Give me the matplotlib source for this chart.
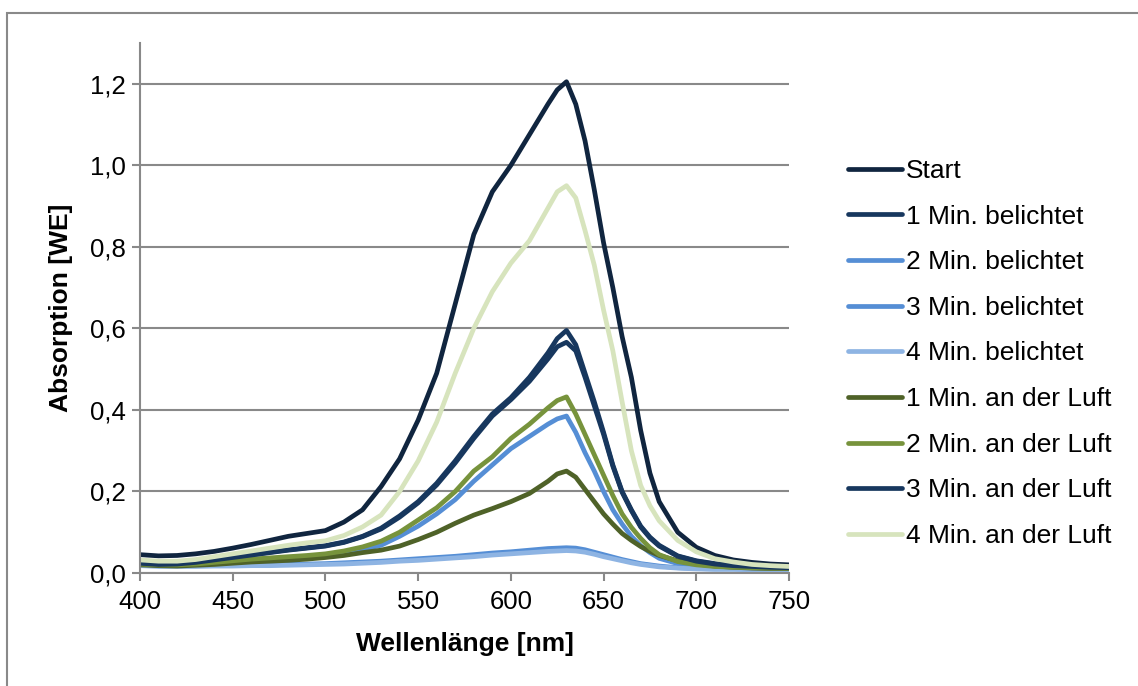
import numpy as np
import matplotlib
matplotlib.use('Agg')
import matplotlib.pyplot as plt
from matplotlib.patches import Rectangle

# Wellenlängen [nm] und Absorptionswerte
wl = [400, 410, 420, 430, 440, 450, 460, 470, 480, 490, 500, 510, 520, 530,
      540, 550, 560, 570, 580, 590, 600, 610, 620, 625, 630, 635, 640, 645,
      650, 655, 660, 665, 670, 675, 680, 690, 700, 710, 720, 730, 740, 750]

start = [0.045, 0.042, 0.043, 0.047, 0.053, 0.061, 0.070, 0.080, 0.090, 0.097,
         0.104, 0.125, 0.155, 0.212, 0.280, 0.375, 0.490, 0.660, 0.830, 0.935,
         1.000, 1.075, 1.150, 1.185, 1.205, 1.150, 1.060, 0.940, 0.810, 0.700,
         0.580, 0.480, 0.350, 0.245, 0.175, 0.100, 0.063, 0.043, 0.032, 0.026,
         0.022, 0.020]
bel_1 = [0.025, 0.022, 0.023, 0.027, 0.033, 0.040, 0.045, 0.051, 0.057, 0.062,
         0.067, 0.076, 0.090, 0.110, 0.140, 0.175, 0.220, 0.275, 0.335, 0.390,
         0.430, 0.480, 0.540, 0.575, 0.595, 0.560, 0.490, 0.420, 0.345, 0.265,
         0.200, 0.155, 0.115, 0.088, 0.068, 0.042, 0.030, 0.023, 0.019, 0.016,
         0.014, 0.013]
bel_2 = [0.020, 0.018, 0.018, 0.020, 0.023, 0.027, 0.031, 0.034, 0.037, 0.040,
         0.044, 0.050, 0.058, 0.068, 0.090, 0.115, 0.145, 0.180, 0.225, 0.265,
         0.305, 0.335, 0.365, 0.378, 0.385, 0.345, 0.295, 0.250, 0.200, 0.155,
         0.120, 0.090, 0.067, 0.050, 0.036, 0.023, 0.017, 0.014, 0.012, 0.011,
         0.011, 0.010]
bel_3 = [0.020, 0.018, 0.018, 0.018, 0.019, 0.019, 0.020, 0.020, 0.021, 0.022,
         0.023, 0.025, 0.027, 0.029, 0.032, 0.035, 0.038, 0.041, 0.045, 0.049,
         0.052, 0.056, 0.060, 0.061, 0.062, 0.061, 0.057, 0.051, 0.045, 0.039,
         0.033, 0.028, 0.023, 0.020, 0.017, 0.013, 0.011, 0.010, 0.010, 0.009,
         0.009, 0.009]
bel_4 = [0.018, 0.016, 0.016, 0.016, 0.017, 0.017, 0.018, 0.018, 0.019, 0.020,
         0.021, 0.022, 0.024, 0.026, 0.029, 0.031, 0.034, 0.037, 0.040, 0.044,
         0.047, 0.050, 0.053, 0.054, 0.055, 0.054, 0.051, 0.046, 0.040, 0.035,
         0.030, 0.025, 0.021, 0.018, 0.015, 0.012, 0.010, 0.009, 0.009, 0.008,
         0.008, 0.008]
luft_1 = [0.020, 0.018, 0.017, 0.019, 0.021, 0.024, 0.027, 0.029, 0.031, 0.034,
          0.038, 0.043, 0.050, 0.056, 0.066, 0.082, 0.100, 0.122, 0.142, 0.158,
          0.175, 0.195, 0.225, 0.243, 0.250, 0.235, 0.205, 0.175, 0.145, 0.120,
          0.097, 0.080, 0.065, 0.053, 0.043, 0.030, 0.022, 0.017, 0.014, 0.012,
          0.011, 0.011]
luft_2 = [0.022, 0.020, 0.020, 0.022, 0.026, 0.030, 0.034, 0.037, 0.040, 0.043,
          0.047, 0.054, 0.064, 0.078, 0.100, 0.130, 0.160, 0.200, 0.250, 0.285,
          0.330, 0.365, 0.405, 0.423, 0.432, 0.390, 0.340, 0.290, 0.240, 0.190,
          0.145, 0.112, 0.085, 0.062, 0.045, 0.028, 0.020, 0.016, 0.014, 0.013,
          0.012, 0.012]
luft_3 = [0.024, 0.021, 0.022, 0.026, 0.032, 0.038, 0.044, 0.050, 0.056, 0.061,
          0.066, 0.075, 0.089, 0.108, 0.137, 0.172, 0.216, 0.270, 0.330, 0.385,
          0.425, 0.470, 0.525, 0.555, 0.566, 0.545, 0.480, 0.410, 0.340, 0.262,
          0.198, 0.153, 0.113, 0.086, 0.066, 0.041, 0.029, 0.022, 0.018, 0.016,
          0.014, 0.013]
luft_4 = [0.032, 0.029, 0.029, 0.033, 0.040, 0.047, 0.054, 0.061, 0.068, 0.074,
          0.079, 0.092, 0.113, 0.142, 0.200, 0.275, 0.370, 0.490, 0.600, 0.690,
          0.760, 0.815, 0.895, 0.935, 0.950, 0.920, 0.840, 0.755, 0.645, 0.545,
          0.420, 0.300, 0.215, 0.165, 0.128, 0.080, 0.052, 0.035, 0.027, 0.021,
          0.018, 0.016]

labels = ['Start', '1 Min. belichtet', '2 Min. belichtet', '3 Min. belichtet',
          '4 Min. belichtet', '1 Min. an der Luft', '2 Min. an der Luft',
          '3 Min. an der Luft', '4 Min. an der Luft']
series = [start, bel_1, bel_2, bel_3, bel_4, luft_1, luft_2, luft_3, luft_4]
colors = ['#10253F', '#17375E', '#558ED5', '#558ED5', '#8EB4E3',
          '#4F6228', '#77933C', '#17375E', '#D7E4BD']

plt.rcParams['font.family'] = ['Liberation Sans', 'DejaVu Sans']
GRAY = '#898989'

W, H = 1138, 686
fig = plt.figure(figsize=(W / 100, H / 100), dpi=100)
ax = fig.add_axes([140 / W, 1 - 573 / H, (789 - 140) / W, (573 - 43) / H])

for y, lab, c in zip(series, labels, colors):
    ax.plot(wl, y, color=c, linewidth=3.4, label=lab, solid_capstyle='round')

ax.set_xlim(400, 750)
ax.set_ylim(0, 1.3)
ax.set_xticks(np.arange(400, 751, 50))
yt = np.arange(0, 1.21, 0.2)
ax.set_yticks(yt)
ax.set_yticklabels([f'{v:.1f}'.replace('.', ',') for v in yt])
ax.yaxis.grid(True, color=GRAY, linewidth=1.5)
ax.set_axisbelow(True)

for s in ['top', 'right']:
    ax.spines[s].set_visible(False)
for s in ['left', 'bottom']:
    ax.spines[s].set_color(GRAY)
    ax.spines[s].set_linewidth(1.5)
ax.tick_params(axis='both', direction='out', length=5.5, width=1.5,
               color=GRAY, labelsize=18.5, labelcolor='black')
ax.tick_params(axis='x', pad=7)
ax.tick_params(axis='y', pad=5)

ax.set_xlabel('Wellenlänge [nm]', fontsize=19, fontweight='bold', labelpad=13)
ax.set_ylabel('Absorption [WE]', fontsize=19, fontweight='bold', labelpad=12)

ax.legend(loc='center left', bbox_to_anchor=(848 / W, 1 - 353.5 / H),
          bbox_transform=fig.transFigure, frameon=False, fontsize=19,
          borderpad=0, borderaxespad=0, handlelength=2.05, handletextpad=0.15,
          labelspacing=0.82)

fig.patches.append(Rectangle((7 / W, -0.01), 1.2, 1 - 13 / H + 0.01,
                             transform=fig.transFigure, fill=False,
                             edgecolor=GRAY, linewidth=1.5))

fig.savefig('out.png', dpi=100)
